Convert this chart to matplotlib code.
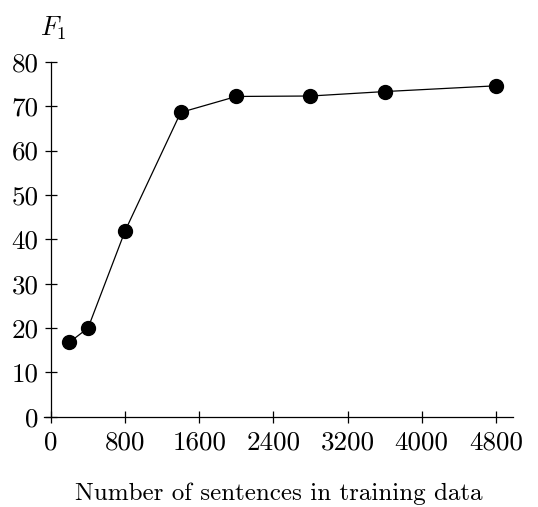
import matplotlib
matplotlib.use("Agg")
import matplotlib.pyplot as plt

# data
sentences = [200, 400, 800, 1400, 2000, 2800, 3600, 4800]
f1_scores = [16.8, 20.0, 41.9, 68.6, 72.2, 72.3, 73.3, 74.6]
x_ticks = [0, 800, 1600, 2400, 3200, 4000, 4800]
y_ticks = [0, 10, 20, 30, 40, 50, 60, 70, 80]

plt.rcParams['font.family'] = 'serif'
plt.rcParams['font.serif'] = ['cmr10', 'DejaVu Serif']
plt.rcParams['mathtext.fontset'] = 'cm'
plt.rcParams['axes.unicode_minus'] = False

fig = plt.figure(figsize=(5.38, 5.07), dpi=100)
ax = fig.add_axes([0.0818, 0.178, 0.8717, 0.700])

ax.plot(sentences, f1_scores, color='black', linewidth=0.9,
        marker='o', markersize=10, markerfacecolor='black',
        markeredgecolor='black', clip_on=False, zorder=3)

ax.set_xlim(-75, 4985)
ax.set_ylim(0, 80)

ax.spines['left'].set_position(('data', 0))
ax.spines['top'].set_visible(False)
ax.spines['right'].set_visible(False)
for s in ('left', 'bottom'):
    ax.spines[s].set_linewidth(0.9)

ax.set_xticks(x_ticks)
ax.set_xticklabels([str(v) for v in x_ticks])
ax.set_yticks(y_ticks)
ax.set_yticklabels([str(v) for v in y_ticks])
ax.tick_params(direction='inout', length=8, width=0.9, labelsize=19.5)
ax.tick_params(axis='x', pad=6)
ax.tick_params(axis='y', pad=5)

ax.text(-120, 87.5, r'$F_1$', fontsize=19, ha='left', va='center')
ax.set_xlabel('Number of sentences in training data', fontsize=18, labelpad=20)

fig.savefig('out.png', dpi=100)
